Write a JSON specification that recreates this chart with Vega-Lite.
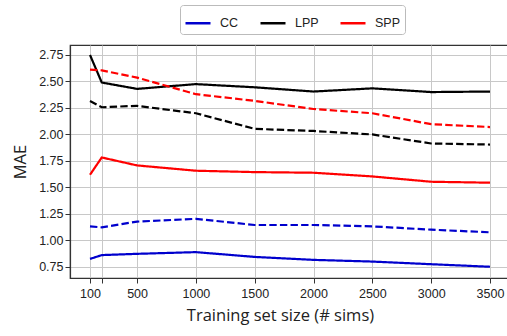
{
  "$schema": "https://vega.github.io/schema/vega-lite/v6.json",
  "autosize": "none",
  "padding": {"left": 70, "top": 45, "right": 0, "bottom": 58},
  "width": 440,
  "height": 233,
  "background": "white",
  "config": {
    "view": {"stroke": "#333333", "strokeWidth": 1.2},
    "font": "Liberation Sans",
    "axis": {
      "gridColor": "#c8c8c8",
      "gridWidth": 1,
      "domainColor": "#333333",
      "domainWidth": 1.2,
      "tickColor": "#333333",
      "tickSize": 5,
      "labelColor": "#222222",
      "labelFontSize": 12.5,
      "labelFont": "Liberation Sans",
      "titleFont": "Open Sans",
      "titleFontSize": 16.5,
      "titleFontWeight": "normal",
      "titleColor": "#222222"
    }
  },
  "data": {
    "values": [
      {"model": "CC", "kind": "solid", "x": 100, "mae": 0.826},
      {"model": "CC", "kind": "solid", "x": 200, "mae": 0.862},
      {"model": "CC", "kind": "solid", "x": 500, "mae": 0.874},
      {"model": "CC", "kind": "solid", "x": 1000, "mae": 0.89},
      {"model": "CC", "kind": "solid", "x": 1500, "mae": 0.845},
      {"model": "CC", "kind": "solid", "x": 2000, "mae": 0.817},
      {"model": "CC", "kind": "solid", "x": 2500, "mae": 0.801},
      {"model": "CC", "kind": "solid", "x": 3000, "mae": 0.776},
      {"model": "CC", "kind": "solid", "x": 3500, "mae": 0.752},
      {"model": "CC", "kind": "dashed", "x": 100, "mae": 1.133},
      {"model": "CC", "kind": "dashed", "x": 200, "mae": 1.124},
      {"model": "CC", "kind": "dashed", "x": 500, "mae": 1.178},
      {"model": "CC", "kind": "dashed", "x": 1000, "mae": 1.204},
      {"model": "CC", "kind": "dashed", "x": 1500, "mae": 1.146},
      {"model": "CC", "kind": "dashed", "x": 2000, "mae": 1.146},
      {"model": "CC", "kind": "dashed", "x": 2500, "mae": 1.133},
      {"model": "CC", "kind": "dashed", "x": 3000, "mae": 1.102},
      {"model": "CC", "kind": "dashed", "x": 3500, "mae": 1.077},
      {"model": "LPP", "kind": "solid", "x": 100, "mae": 2.75},
      {"model": "LPP", "kind": "solid", "x": 200, "mae": 2.49},
      {"model": "LPP", "kind": "solid", "x": 500, "mae": 2.43},
      {"model": "LPP", "kind": "solid", "x": 1000, "mae": 2.475},
      {"model": "LPP", "kind": "solid", "x": 1500, "mae": 2.445},
      {"model": "LPP", "kind": "solid", "x": 2000, "mae": 2.405},
      {"model": "LPP", "kind": "solid", "x": 2500, "mae": 2.435},
      {"model": "LPP", "kind": "solid", "x": 3000, "mae": 2.4},
      {"model": "LPP", "kind": "solid", "x": 3500, "mae": 2.405},
      {"model": "LPP", "kind": "dashed", "x": 100, "mae": 2.315},
      {"model": "LPP", "kind": "dashed", "x": 200, "mae": 2.257},
      {"model": "LPP", "kind": "dashed", "x": 500, "mae": 2.27},
      {"model": "LPP", "kind": "dashed", "x": 1000, "mae": 2.2},
      {"model": "LPP", "kind": "dashed", "x": 1500, "mae": 2.053},
      {"model": "LPP", "kind": "dashed", "x": 2000, "mae": 2.033},
      {"model": "LPP", "kind": "dashed", "x": 2500, "mae": 2.0},
      {"model": "LPP", "kind": "dashed", "x": 3000, "mae": 1.915},
      {"model": "LPP", "kind": "dashed", "x": 3500, "mae": 1.905},
      {"model": "SPP", "kind": "solid", "x": 100, "mae": 1.62},
      {"model": "SPP", "kind": "solid", "x": 200, "mae": 1.783},
      {"model": "SPP", "kind": "solid", "x": 500, "mae": 1.708},
      {"model": "SPP", "kind": "solid", "x": 1000, "mae": 1.658},
      {"model": "SPP", "kind": "solid", "x": 1500, "mae": 1.645},
      {"model": "SPP", "kind": "solid", "x": 2000, "mae": 1.639},
      {"model": "SPP", "kind": "solid", "x": 2500, "mae": 1.604},
      {"model": "SPP", "kind": "solid", "x": 3000, "mae": 1.554},
      {"model": "SPP", "kind": "solid", "x": 3500, "mae": 1.545},
      {"model": "SPP", "kind": "dashed", "x": 100, "mae": 2.612},
      {"model": "SPP", "kind": "dashed", "x": 200, "mae": 2.605},
      {"model": "SPP", "kind": "dashed", "x": 500, "mae": 2.536},
      {"model": "SPP", "kind": "dashed", "x": 1000, "mae": 2.38},
      {"model": "SPP", "kind": "dashed", "x": 1500, "mae": 2.317},
      {"model": "SPP", "kind": "dashed", "x": 2000, "mae": 2.24},
      {"model": "SPP", "kind": "dashed", "x": 2500, "mae": 2.2},
      {"model": "SPP", "kind": "dashed", "x": 3000, "mae": 2.097},
      {"model": "SPP", "kind": "dashed", "x": 3500, "mae": 2.07}
    ]
  },
  "mark": {"type": "line", "strokeWidth": 2.2, "clip": true},
  "encoding": {
    "x": {
      "field": "x",
      "type": "quantitative",
      "scale": {"domain": [-70, 3670], "nice": false, "zero": false},
      "axis": {
        "values": [100, 200, 500, 1000, 1500, 2000, 2500, 3000, 3500],
        "labelExpr": "datum.value == 200 ? '' : datum.label",
        "format": "d",
        "labelPadding": 4,
        "title": "Training set size (# sims)",
        "titlePadding": 8,
        "titleX": 210
      }
    },
    "y": {
      "field": "mae",
      "type": "quantitative",
      "scale": {"domain": [0.646, 2.844], "nice": false, "zero": false},
      "axis": {
        "values": [0.75, 1.0, 1.25, 1.5, 1.75, 2.0, 2.25, 2.5, 2.75],
        "format": ".2f",
        "title": "MAE",
        "titlePadding": 10
      }
    },
    "color": {
      "field": "model",
      "type": "nominal",
      "scale": {"domain": ["CC", "LPP", "SPP"], "range": ["#0000cd", "#000000", "#ff0000"]},
      "legend": {
        "title": null,
        "orient": "none",
        "legendX": 110,
        "legendY": -40,
        "direction": "horizontal",
        "columns": 3,
        "columnPadding": 16,
        "symbolType": "stroke",
        "symbolSize": 625,
        "symbolStrokeWidth": 2.5,
        "labelFontSize": 12.5,
        "labelFont": "Liberation Sans",
        "labelColor": "#222222",
        "labelOffset": 8,
        "strokeColor": "#bbbbbb",
        "fillColor": "white",
        "cornerRadius": 3,
        "padding": 4
      }
    },
    "strokeDash": {
      "field": "kind",
      "type": "nominal",
      "scale": {"domain": ["solid", "dashed"], "range": [[1, 0], [7.4, 3.2]]},
      "legend": null
    }
  }
}
